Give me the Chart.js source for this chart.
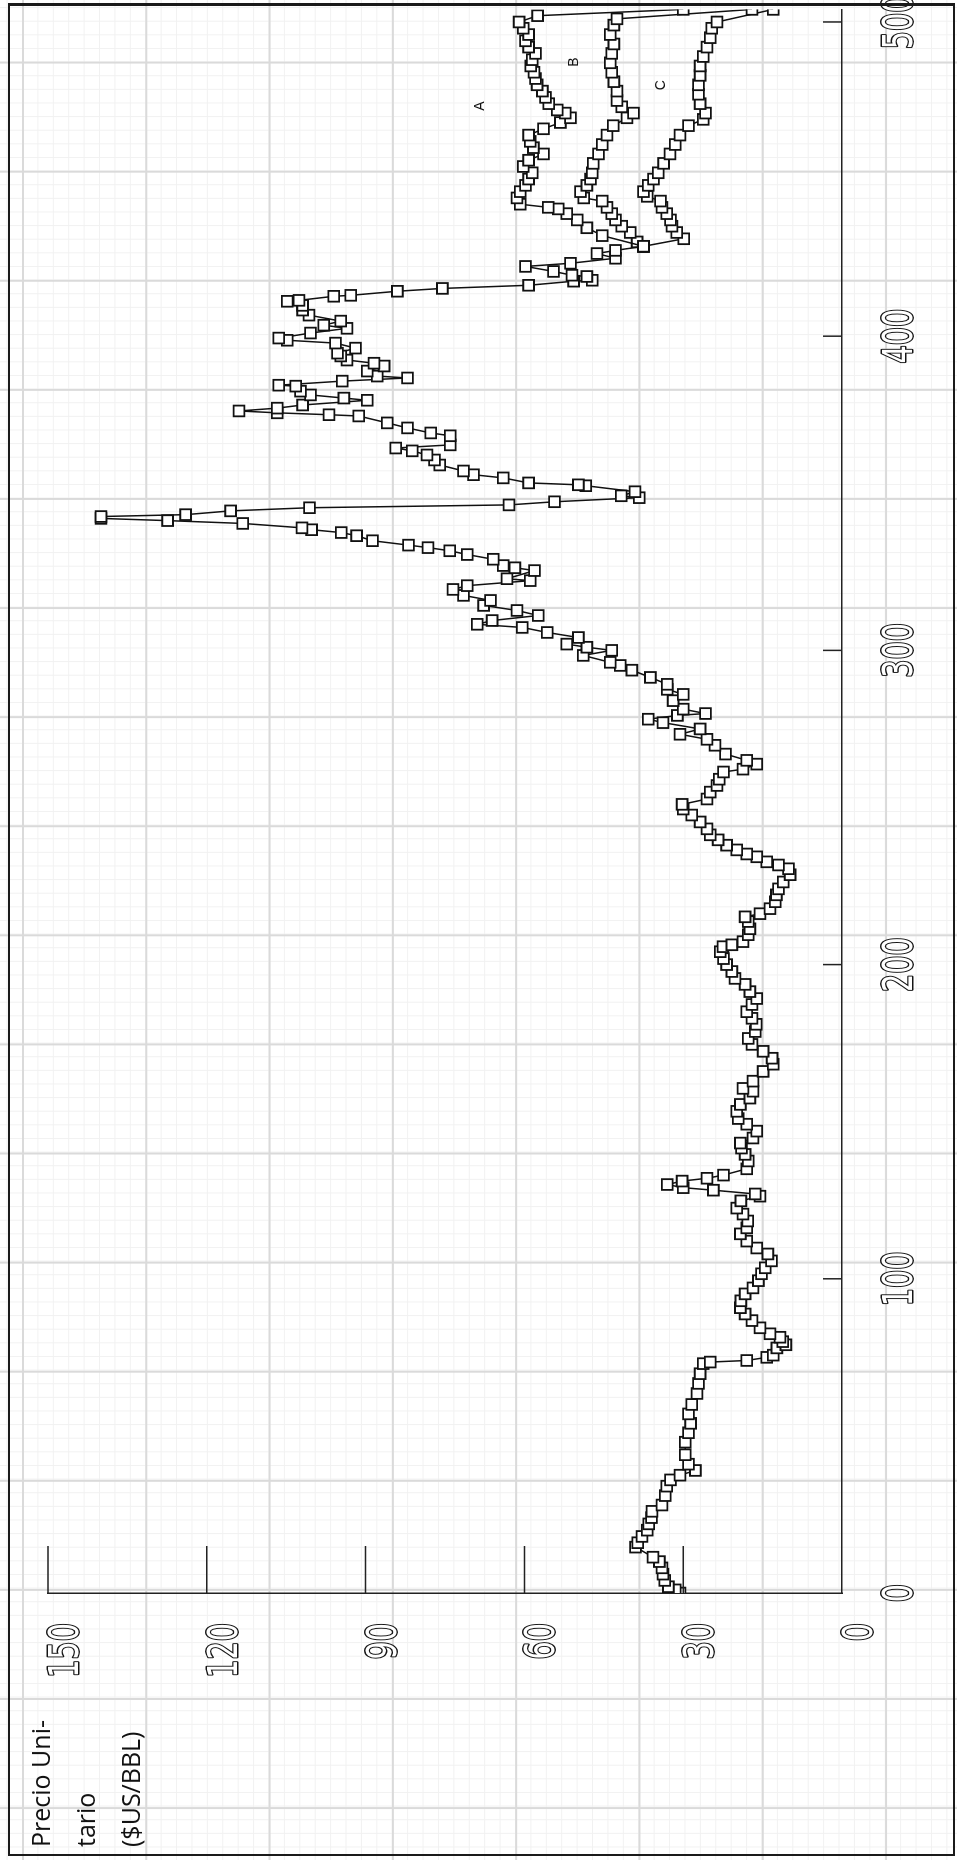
<!DOCTYPE html>
<html>
<head>
<meta charset="utf-8">
<script src="https://cdn.jsdelivr.net/npm/chart.js@4.4.1/dist/chart.umd.min.js"></script>
<style>
  html, body { margin: 0; padding: 0; }
  body {
    width: 957px; height: 1860px; position: relative; overflow: hidden;
    background-color: #fff;
    background-image:
      linear-gradient(to right, #dadada 1.5px, transparent 1.5px),
      linear-gradient(to bottom, #dadada 1.5px, transparent 1.5px),
      linear-gradient(to right, #f1f1f1 1px, transparent 1px),
      linear-gradient(to bottom, #f1f1f1 1px, transparent 1px);
    background-size: 123.3px 100%, 100% 109.1px, 15.41px 100%, 100% 13.64px;
    background-position: 22px 0, 0 61.6px, 22px 0, 0 61.6px;
  }
  #wrap {
    position: absolute; left: 0; top: 0; width: 1860px; height: 957px;
    transform-origin: 0 0; transform: translate(0, 1860px) rotate(-90deg);
  }
  #frame {
    position: absolute; left: 8px; top: 3px; width: 947px; height: 1853px;
    border: 2px solid #1a1a1a; border-top-width: 3px; box-sizing: border-box;
    pointer-events: none;
  }
</style>
</head>
<body>
<div id="wrap"><canvas id="precioChart" width="1860" height="957"></canvas></div>
<div id="frame"></div>
<script>
// ticks y textos
const indexTicks = [0, 100, 200, 300, 400, 500];
const priceTicks = [0, 30, 60, 90, 120, 150];
const axisTitle = ["Precio Uni-", "tario", "($US/BBL)"];
const scenarioNames = ["A", "B", "C"];

// serie historica (indice, precio)
const mainX = [0,1,2,4,6,8,10,11.4,14.6,16,18,20,22,24,26,28,31,34,36,37.5,39,41,44,48,51,54,57,60,63.5,66.7,69.8,73,73.5,74,75,75.7,78,79,80,81.4,82.5,84.4,86.7,88.8,90.8,93,95.2,97.1,99.4,101.6,103.5,105.7,107.9,109.8,112,114.3,116.2,118.4,120.6,122.5,124.8,126.3,127,128.2,129,130,131.1,132,133,135,137.5,139.6,141.6,143.2,144.8,147,149.2,151,153.3,155.5,157.5,159.7,160.6,162.9,166,168.3,170.2,172.4,174.6,176.5,178.7,181,182.9,185,187.3,189.2,191.4,193.7,195.6,197.8,200,201.9,204.1,205.7,206.3,207.3,209.5,211.4,213.7,215.2,216.2,217.8,220,222.2,224.1,226.3,228.6,230.5,231.7,232.7,234.3,235.2,236.5,238,239.7,241.3,243.2,245.4,247.6,249.5,251,252.7,254.9,257,259,261.3,262.2,263.8,265,267,269.8,271.7,273.3,275,277,278.1,279.3,279.9,281.3,284,286,287.6,289.2,291.4,293.7,295.2,296.2,298.4,300,301,302,304.1,305.7,307.3,308.3,309.5,311.1,312.7,314.3,315.9,317.5,319.4,320.6,322.2,322.8,325.4,326.3,327,329,330.5,331.7,332.7,333.5,334.9,336.5,337.5,338.4,339,340.4,341.3,342,342.6,343.2,344.4,345.4,346.3,347.3,348.6,349.2,350.5,352.4,352.7,353.3,354.9,355.9,357.1,359,360.6,362.2,363.5,364.4,365.4,368.3,369.2,370.8,372.4,374.6,375,375.6,376.2,377.1,378.1,379.6,380.3,381.3,382.5,384.1,384.4,385.7,386.7,387.3,388.9,390.5,391.4,392.4,393.7,394.6,396.2,397.8,398.7,399.4,401,402.5,403.5,404.8,406.7,408.3,409.8,411.1,411.4,412.7,413,414.3,415.2,416.2,417.5,417.8,419,419.4,420.6,422.2,423.2,424.8,426.3,427.3,428.6];
const mainY = [30.6,31.5,32.8,33.5,33.8,34,34.5,35.7,39,38.6,37.8,36.8,36.5,36,35.9,34,33.4,33.1,32.4,30.6,27.7,29,29.6,29.6,29,28.6,29,28.4,27.4,27.1,26.8,26.2,24.9,18,14.2,13,12.3,10.6,11.2,11.7,13.6,15.5,17,18.3,19.2,19.1,18.3,16.8,15.8,15.2,14.5,13.3,14,16.1,18,19.2,18,17.8,18.7,19.9,19.1,15.5,16.4,24.3,30,33,30.2,25.5,22.4,18,17.7,18.3,19,19.2,16.8,16.1,18,19.6,19.9,19.2,17.4,16.8,18.7,16.8,14.9,13,13.2,14.9,17,17.7,16.4,16.2,17,18,17,16.1,17.4,18.3,20.2,20.8,21.8,22.4,23,22.5,20.8,18.7,17.7,17.4,17.7,18.3,15.5,13.6,12.6,12.4,12,11.1,9.8,10.1,12,14.2,16.1,18,19.9,21.8,23.4,24.9,25.5,26.8,28.4,30,30.2,25.5,24.9,23.6,23.2,22.4,18.7,16.1,18,22,24,25.5,30.6,26.8,33.8,36.6,31.1,25.8,30,31.9,30,33,33,36.2,39.7,41.9,43.8,48.9,43.5,48.2,52,49.8,55.7,60.4,68.9,66.1,57.4,61.4,67.7,66.4,71.5,73.5,70.8,58.9,63.3,58.1,61.8,64,65.9,70.8,74.1,78.2,81.9,88.7,91.7,94.6,100.2,102,113.2,127.4,140,140,124,115.5,100.6,62.9,54.3,38.3,41.7,39.1,48.4,49.8,59.2,64,69.6,71.5,76,77,78.4,81.2,84.3,74,74,77.7,82.1,85.9,91.3,96.9,106.7,113.9,106.7,101.9,89.7,94.1,100.4,102.3,103.2,106.4,94.4,82.1,87.8,89.7,86.5,88.4,93.5,94.7,95.3,91.9,95.7,104.8,106.4,100.4,93.5,97.9,94.7,100.7,101.9,101.9,104.8,102.6,96,92.8,84,75.5,59.2,50.7,47.2,48.2,51,54.5,59.8,51.3,42.8,46.3,42.8,37.5];

// escenarios
const aX = [428.6,432,434.5,437,439,440.5,441,442,444,446,448,450,452,454,456,458,460,462,464,466,468,469.5,471,472,474,476,478,480,482,484,486,488,490,492,494,496,498,500,502,504];
const aY = [37.5,45.3,48.2,50,52,53.6,55.5,60.8,61.4,60.8,59.8,59.2,58.5,60.2,59.2,56.4,58.3,58.9,59.2,56.4,53.2,51.3,52.3,53.8,55.4,56,56.6,57.6,57.9,58.2,58.8,58.5,57.9,59.2,59.8,59.2,60.2,61,57.5,30];
const bX = [428.6,430,433,435,437,439,441,443,444,446,448,450,452,455,458,461,464,467,469.5,471,473,475,478,481,484,487,490,493,496,499,501,504];
const bY = [37.5,38.7,40,41.6,42.8,43.5,44.4,45.3,48.8,49.4,48.2,47.5,47.2,47,46,45.3,44.4,43.2,40.6,39.4,41.6,42.5,42.5,43.1,43.5,43.8,43.5,43.1,43.8,43.1,42.5,17];
const cX = [428.6,431,433,435,437,439,441,443,444.5,446,448,450,452,455,458,461,464,467,469,471,474,477,480,483,486,489,492,495,498,500,504];
const cY = [37.5,29.9,31.2,32.1,32.4,33.1,34,34.3,36.8,37.5,36.6,35.6,34.7,33.7,32.5,31.5,30.6,29,26.2,25.8,26.8,27.1,27.1,26.8,26.8,26.2,25.5,24.9,24.6,23.6,13];

function toPoints(xs, ys) {
  return xs.map((x, k) => ({ x: x, y: ys[k] }));
}

function serie(xs, ys) {
  return {
    data: toPoints(xs, ys),
    borderColor: "#111",
    borderWidth: 1.5,
    pointStyle: "rect",
    pointRadius: 7.6,
    pointBackgroundColor: "#fff",
    pointBorderColor: "#111",
    pointBorderWidth: 1.8,
    tension: 0,
  };
}

// etiquetas de los ejes: letra hueca y estrecha
function hollowText(ctx, text, x, y, align) {
  ctx.save();
  ctx.translate(x, y);
  ctx.scale(0.7, 1);
  ctx.textAlign = align;
  ctx.textBaseline = "alphabetic";
  ctx.font = "41px 'DejaVu Sans', sans-serif";
  ctx.lineJoin = "round";
  ctx.lineWidth = 2.8;
  ctx.strokeStyle = "#151515";
  ctx.strokeText(text, 0, 0);
  ctx.fillStyle = "#fff";
  ctx.fillText(text, 0, 0);
  ctx.restore();
}

// marcas hacia adentro, etiquetas, titulo del eje y letras A B C
const extras = {
  id: "extras",
  afterDraw(chart) {
    const ctx = chart.ctx;
    const xs = chart.scales.x;
    const ys = chart.scales.y;
    const area = chart.chartArea;
    ctx.save();
    ctx.strokeStyle = "#222";
    ctx.lineWidth = 1.5;
    ctx.beginPath();
    ys.ticks.forEach((t) => {
      if (t.value === 0) return;
      const py = ys.getPixelForValue(t.value);
      ctx.moveTo(area.left, py);
      ctx.lineTo(area.left + 47, py);
    });
    xs.ticks.forEach((t) => {
      if (t.value === 0) return;
      const px = xs.getPixelForValue(t.value);
      ctx.moveTo(px, area.bottom);
      ctx.lineTo(px, area.bottom - 19);
    });
    ctx.stroke();

    ys.ticks.forEach((t) => {
      hollowText(ctx, String(t.value), area.left - 30, ys.getPixelForValue(t.value) + 30, "right");
    });
    xs.ticks.forEach((t) => {
      hollowText(ctx, String(t.value), xs.getPixelForValue(t.value), area.bottom + 70, "center");
    });

    ctx.fillStyle = "#111";
    ctx.font = "25px 'Open Sans', 'Noto Sans', sans-serif";
    ctx.textAlign = "left";
    ctx.textBaseline = "alphabetic";
    axisTitle.forEach((t, k) => ctx.fillText(t, 13, 50 + k * 45));

    // posiciones de las etiquetas de escenario (en unidades de datos)
    const labelAt = [[473.2, 68.4], [487.2, 50.6], [479.9, 34.2]];
    ctx.font = "14px 'Liberation Sans', sans-serif";
    ctx.textAlign = "center";
    ctx.textBaseline = "middle";
    scenarioNames.forEach((n, k) => {
      ctx.fillText(n, xs.getPixelForValue(labelAt[k][0]), ys.getPixelForValue(labelAt[k][1]));
    });
    ctx.restore();
  },
};

const ctx = document.getElementById("precioChart").getContext("2d");
new Chart(ctx, {
  type: "line",
  data: {
    datasets: [serie(mainX, mainY), serie(aX, aY), serie(bX, bY), serie(cX, cY)],
  },
  options: {
    responsive: false,
    animation: false,
    devicePixelRatio: 1,
    layout: { padding: { left: 0, right: 4, top: 48, bottom: 0 } },
    plugins: { legend: { display: false }, tooltip: { enabled: false } },
    scales: {
      x: {
        type: "linear",
        min: 0,
        max: 504,
        grid: { display: false, drawTicks: false },
        border: { display: true, color: "#222", width: 1.5 },
        afterBuildTicks: (s) => { s.ticks = indexTicks.map((v) => ({ value: v })); },
        ticks: { display: false },
        afterFit: (s) => { s.height = 115; s.paddingLeft = 0; s.paddingRight = 0; },
      },
      y: {
        min: 0,
        max: 150,
        grid: { display: false, drawTicks: false },
        border: { display: true, color: "#222", width: 1.5 },
        afterBuildTicks: (s) => { s.ticks = priceTicks.map((v) => ({ value: v })); },
        ticks: { display: false },
        afterFit: (s) => { s.width = 267; s.paddingTop = 0; s.paddingBottom = 0; },
      },
    },
  },
  plugins: [extras],
});
</script>
</body>
</html>
